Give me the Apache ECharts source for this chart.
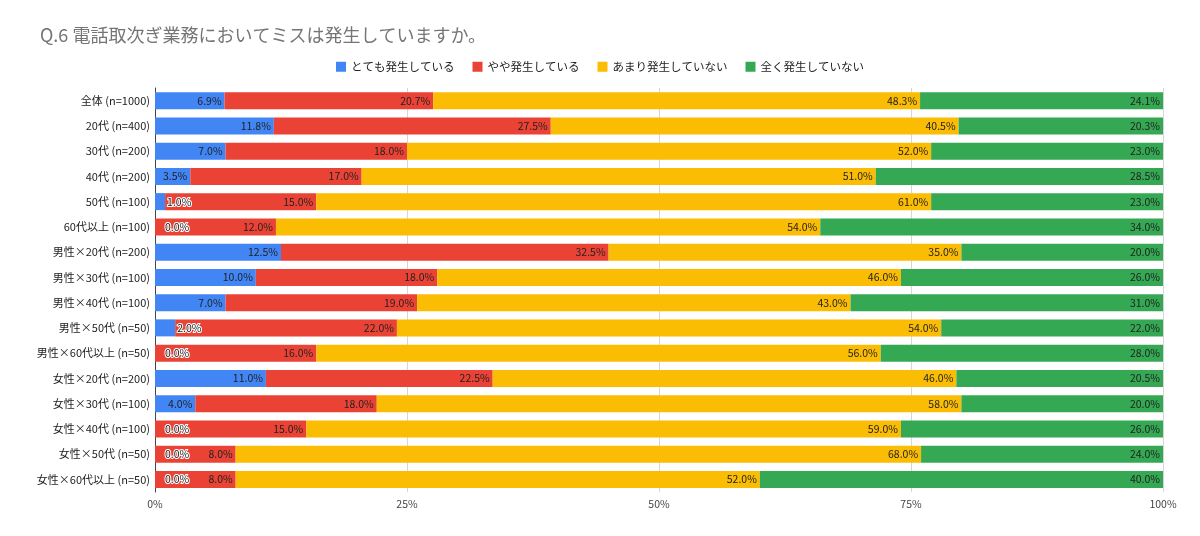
<!DOCTYPE html>
<html>
<head>
<meta charset="utf-8">
<script src="https://cdn.jsdelivr.net/npm/echarts@6/dist/echarts.min.js"></script>
<style>
html,body{margin:0;padding:0;background:#fff;}
#main{width:1200px;height:536px;}
</style>
</head>
<body>
<div id="main"></div>
<script>
// categories (top to bottom)
var categories = ['全体 (n=1000)','20代 (n=400)','30代 (n=200)','40代 (n=200)','50代 (n=100)','60代以上 (n=100)',
  '男性×20代 (n=200)','男性×30代 (n=100)','男性×40代 (n=100)','男性×50代 (n=50)','男性×60代以上 (n=50)',
  '女性×20代 (n=200)','女性×30代 (n=100)','女性×40代 (n=100)','女性×50代 (n=50)','女性×60代以上 (n=50)'];
var seriesNames = ['とても発生している','やや発生している','あまり発生していない','全く発生していない'];
var verySome = [6.9,11.8,7.0,3.5,1.0,0.0,12.5,10.0,7.0,2.0,0.0,11.0,4.0,0.0,0.0,0.0];
var somewhat = [20.7,27.5,18.0,17.0,15.0,12.0,32.5,18.0,19.0,22.0,16.0,22.5,18.0,15.0,8.0,8.0];
var rarely   = [48.3,40.5,52.0,51.0,61.0,54.0,35.0,46.0,43.0,54.0,56.0,46.0,58.0,59.0,68.0,52.0];
var never    = [24.1,20.3,23.0,28.5,23.0,34.0,20.0,26.0,31.0,22.0,28.0,20.5,20.0,26.0,24.0,40.0];
var xTicks = ['0%','25%','50%','75%','100%'];
var colors = ['#4285F4','#EA4335','#FBBC04','#34A853'];

var allData = [verySome, somewhat, rarely, never];
// 100% stacked: normalise each row
var rowSums = categories.map(function (c, i) {
  return allData.reduce(function (s, arr) { return s + arr[i]; }, 0);
});

var font = '"Noto Sans CJK JP", "Noto Sans", sans-serif';

var series = allData.map(function (arr, k) {
  return {
    name: seriesNames[k],
    type: 'bar',
    stack: 'total',
    barWidth: 17,
    itemStyle: { color: colors[k] },
    label: {
      show: true,
      position: 'insideRight',
      distance: 3,
      fontSize: 10.5,
      fontFamily: font,
      color: '#222',
      formatter: function (p) { return p.data.raw.toFixed(1) + '%'; }
    },
    data: arr.map(function (v, i) {
      var item = { value: v / rowSums[i] * 100, raw: v };
      if (v < 3) {
        // small segments: label sits just right of the bar with a white halo
        item.label = {
          position: 'right',
          distance: v === 0 ? 10 : 2,
          textBorderColor: '#fff',
          textBorderWidth: 2
        };
      }
      return item;
    })
  };
});

var myChart = echarts.init(document.getElementById('main'));
myChart.setOption({
  animation: false,
  title: {
    text: 'Q.6 電話取次ぎ業務においてミスは発生していますか。',
    left: 35,
    top: 21,
    textStyle: { fontFamily: font, fontSize: 18, fontWeight: 'normal', color: '#757575' }
  },
  legend: {
    top: 56,
    left: 'center',
    itemWidth: 10,
    itemHeight: 10,
    itemGap: 18,
    icon: 'rect',
    textStyle: { fontFamily: font, fontSize: 11.5, color: '#222' },
    data: seriesNames
  },
  grid: { left: 155, right: 37, top: 88, bottom: 44 },
  xAxis: {
    type: 'value',
    min: 0,
    max: 100,
    interval: 25,
    axisLine: { show: false },
    axisTick: { show: false },
    splitLine: { lineStyle: { color: '#d6d6d6' } },
    axisLabel: {
      fontFamily: font, fontSize: 10.5, color: '#444', margin: 7,
      formatter: function (v) { return xTicks[v / 25]; }
    }
  },
  yAxis: {
    type: 'category',
    inverse: true,
    data: categories,
    axisLine: { show: true, lineStyle: { color: '#444' } },
    axisTick: { show: false },
    axisLabel: { fontFamily: font, fontSize: 11, color: '#222', margin: 5 }
  },
  series: series
});
</script>
</body>
</html>
